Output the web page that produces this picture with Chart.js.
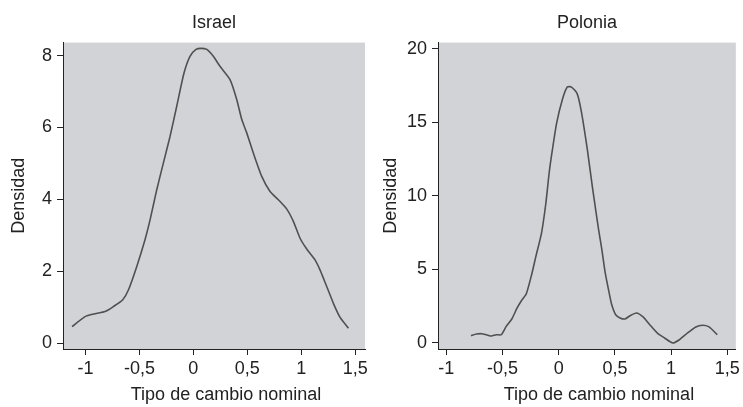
<!DOCTYPE html>
<html>
<head>
<meta charset="utf-8">
<script src="https://cdn.jsdelivr.net/npm/chart.js@4.4.1/dist/chart.umd.min.js"></script>
<style>
  body { margin: 0; background: #fff; }
  #wrap { position: relative; width: 743px; height: 407px; }
  .panel { position: absolute; top: 0; width: 371px; height: 407px; }
</style>
</head>
<body>
<div id="wrap">
  <div class="panel" style="left:0"><canvas id="israelChart" width="371" height="407"></canvas></div>
  <div class="panel" style="left:372px"><canvas id="poloniaChart" width="371" height="407"></canvas></div>
</div>
<script>
// kernel density
var israelX = [-1.124, -1.004, -0.911, -0.818, -0.741, -0.654, -0.602, -0.525, -0.448, -0.401,
  -0.339, -0.278, -0.216, -0.154, -0.086, -0.031, 0.025, 0.070, 0.124, 0.185,
  0.247, 0.340, 0.402, 0.449, 0.495, 0.556, 0.634, 0.711, 0.788, 0.866,
  0.927, 0.989, 1.051, 1.128, 1.174, 1.236, 1.298, 1.360, 1.437];
var israelY = [0.46, 0.74, 0.82, 0.88, 1.02, 1.21, 1.48, 2.13, 2.88, 3.43,
  4.27, 5.01, 5.75, 6.59, 7.52, 7.98, 8.17, 8.20, 8.17, 7.98,
  7.70, 7.33, 6.78, 6.22, 5.85, 5.29, 4.64, 4.22, 3.99, 3.73,
  3.39, 2.92, 2.62, 2.32, 2.04, 1.58, 1.11, 0.72, 0.42];

var poloniaX = [-0.781, -0.731, -0.687, -0.643, -0.599, -0.555, -0.511, -0.467, -0.417, -0.370,
  -0.329, -0.288, -0.241, -0.203, -0.153, -0.114, -0.085, -0.056, -0.018, 0.032,
  0.076, 0.114, 0.164, 0.202, 0.255, 0.299, 0.330, 0.355, 0.384, 0.414,
  0.449, 0.472, 0.507, 0.546, 0.590, 0.634, 0.692, 0.751, 0.810, 0.883,
  0.942, 1.015, 1.074, 1.147, 1.220, 1.279, 1.338, 1.411];
var poloniaY = [0.50, 0.61, 0.63, 0.56, 0.47, 0.56, 0.56, 1.13, 1.63, 2.38,
  2.90, 3.35, 4.64, 5.88, 7.47, 9.51, 11.55, 13.13, 14.95, 16.53,
  17.39, 17.39, 16.94, 15.70, 13.13, 10.64, 9.00, 7.70, 6.34, 4.76,
  3.40, 2.60, 1.92, 1.70, 1.63, 1.85, 2.04, 1.77, 1.24, 0.63,
  0.34, 0.00, 0.22, 0.68, 1.09, 1.20, 1.09, 0.56];

var xTicks = [-1, -0.5, 0, 0.5, 1, 1.5];
var israelYTicks = [0, 2, 4, 6, 8];
var poloniaYTicks = [0, 5, 10, 15, 20];

Chart.defaults.font.family = '"Liberation Sans", Arial, sans-serif';
Chart.defaults.color = '#222';

var plotBackground = {
    id: 'plotBackground',
    beforeDraw: function (chart) {
        var a = chart.chartArea, c = chart.ctx;
        c.save();
        c.fillStyle = '#d2d3d6';
        c.fillRect(a.left, a.top, a.right - a.left, a.bottom - a.top);
        c.restore();
    }
};

// x axis caption, sits a bit right of the plot centre like the original
var axisCaption = {
    id: 'axisCaption',
    afterDraw: function (chart, args, opts) {
        var a = chart.chartArea, c = chart.ctx;
        c.save();
        c.font = '18px "Liberation Sans", Arial, sans-serif';
        c.fillStyle = '#222';
        c.textAlign = 'center';
        c.textBaseline = 'middle';
        c.fillText(opts.text, (a.left + a.right) / 2 + opts.dx, opts.y);
        c.restore();
    }
};

function commaLabel(v) {
    return String(v).replace('.', ',');
}

function makePanel(id, name, xs, ys, yTicks, yMin, yMax, xMin, xMax, axisWidth, rightPad) {
    var ctx = document.getElementById(id).getContext('2d');
    return new Chart(ctx, {
        type: 'line',
        data: {
            datasets: [{
                data: xs.map(function (x, i) { return { x: x, y: ys[i] }; }),
                borderColor: '#505050',
                borderWidth: 1.6,
                pointRadius: 0,
                fill: false,
                tension: 0.2
            }]
        },
        plugins: [plotBackground, axisCaption],
        options: {
            responsive: false,
            animation: false,
            layout: { padding: { left: 0, right: rightPad, top: 0, bottom: 0 } },
            plugins: {
                legend: { display: false },
                tooltip: { enabled: false },
                title: {
                    display: true,
                    text: name,
                    fullSize: false,
                    font: { size: 18, weight: 'normal' },
                    padding: { top: 12, bottom: 9 }
                },
                axisCaption: { text: 'Tipo de cambio nominal', dx: 12, y: 395 }
            },
            scales: {
                x: {
                    type: 'linear',
                    min: xMin,
                    max: xMax,
                    afterBuildTicks: function (s) { s.ticks = xTicks.map(function (v) { return { value: v }; }); },
                    afterFit: function (s) { s.height = 58; },
                    ticks: { font: { size: 18 }, padding: 3, maxRotation: 0, callback: commaLabel },
                    grid: { drawOnChartArea: false, drawTicks: true, tickLength: 6, tickColor: '#222' },
                    border: { display: true, color: '#222', width: 1 }
                },
                y: {
                    min: yMin,
                    max: yMax,
                    afterBuildTicks: function (s) { s.ticks = yTicks.map(function (v) { return { value: v }; }); },
                    afterFit: function (s) { s.width = axisWidth; },
                    ticks: { font: { size: 18 }, padding: 5 },
                    grid: { drawOnChartArea: false, drawTicks: true, tickLength: 6, tickColor: '#222' },
                    border: { display: true, color: '#222', width: 1 },
                    title: { display: true, text: 'Densidad', font: { size: 18 }, padding: { top: 8, bottom: 0 } }
                }
            }
        }
    });
}

makePanel('israelChart', 'Israel', israelX, israelY, israelYTicks, -0.16, 8.36, -1.208, 1.591, 63, 6);
makePanel('poloniaChart', 'Polonia', poloniaX, poloniaY, poloniaYTicks, -0.41, 20.41, -1.074, 1.576, 66, 4);
</script>
</body>
</html>
